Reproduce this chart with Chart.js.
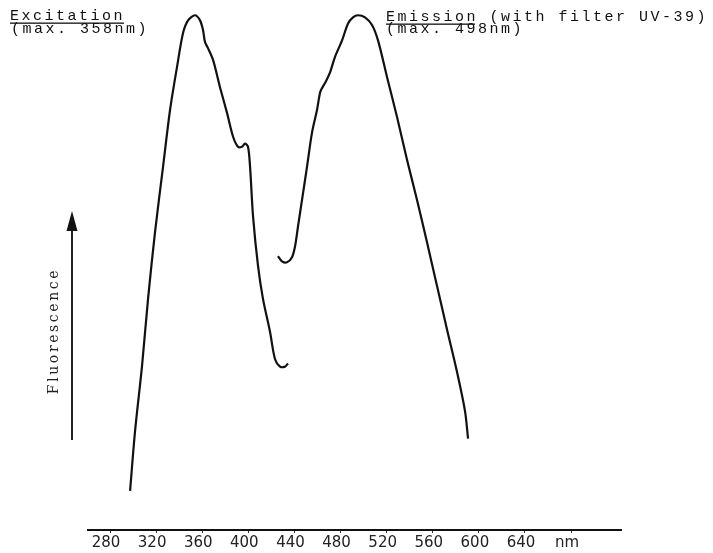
<!DOCTYPE html>
<html>
<head>
<meta charset="utf-8">
<script src="https://cdn.jsdelivr.net/npm/chart.js@4/dist/chart.umd.min.js"></script>
<style>
  html, body { margin: 0; padding: 0; background: #fff; }
  #box { width: 713px; height: 553px; }
</style>
</head>
<body>
<div id="box"><canvas id="spectrum"></canvas></div>
<script>
// wavelengths (nm) and relative fluorescence
const exWavelength = [297.4, 301.7, 307.8, 313.0, 319.0, 326.0, 332.1, 338.1, 343.3, 347.7, 353.7, 358.1, 360.7, 362.4, 365.0, 369.4, 375.4, 381.5, 386.7, 391.0, 394.5, 397.1, 399.7, 401.5, 404.1, 408.4, 412.7, 418.8, 423.1, 427.5, 431.8, 434.4];
const exIntensity  = [7.6, 19.2, 32.0, 45.0, 57.9, 70.7, 81.8, 90.1, 96.7, 99.2, 100.2, 99.2, 97.3, 95.0, 93.8, 91.5, 86.2, 81.2, 76.6, 74.6, 74.6, 75.2, 74.6, 70.7, 61.0, 51.4, 45.0, 38.6, 33.3, 31.8, 31.8, 32.4];

const emWavelength = [425.7, 429.2, 433.5, 437.9, 440.5, 443.1, 446.6, 450.9, 455.2, 459.6, 462.2, 463.9, 466.5, 470.9, 475.2, 481.3, 486.5, 490.8, 495.1, 501.2, 507.3, 512.5, 520.3, 529.0, 537.6, 546.3, 555.0, 563.7, 572.3, 581.0, 588.0, 590.6];
const emIntensity  = [53.3, 52.3, 52.1, 53.1, 55.2, 59.1, 64.3, 70.7, 77.3, 81.8, 85.1, 86.0, 87.0, 89.1, 92.1, 95.3, 98.6, 99.8, 100.2, 99.8, 98.3, 95.3, 88.2, 80.4, 72.1, 64.3, 56.0, 47.5, 39.1, 30.8, 23.1, 17.8];

const tickValues = [280, 320, 360, 400, 440, 480, 520, 560, 600, 640];
const unitTick = 680;
const unitLabel = 'nm';

function toPoints(xs, ys) {
  return xs.map((x, i) => ({ x: x, y: ys[i] }));
}

// typed captions, axis arrow and its label
const decorations = {
  id: 'decorations',
  afterDraw(chart) {
    const ctx = chart.ctx;
    ctx.save();
    ctx.fillStyle = '#111';
    ctx.font = '15px "Liberation Mono"';
    ctx.letterSpacing = '2.5px';
    ctx.textBaseline = 'alphabetic';
    ctx.fillText('Excitation', 10, 20);
    ctx.fillText('(max. 358nm)', 11, 33);
    ctx.fillText('Emission (with filter UV-39)', 386, 21);
    ctx.fillText('(max. 498nm)', 386, 33);
    ctx.fillRect(10, 22.5, 114, 1.3);
    ctx.fillRect(386, 23.5, 89, 1.3);

    ctx.strokeStyle = '#222';
    ctx.lineWidth = 2;
    ctx.beginPath();
    ctx.moveTo(72, 440);
    ctx.lineTo(72, 224);
    ctx.stroke();
    ctx.beginPath();
    ctx.moveTo(72, 211);
    ctx.lineTo(66.5, 231);
    ctx.lineTo(77.5, 231);
    ctx.closePath();
    ctx.fill();

    ctx.translate(54, 331);
    ctx.rotate(-Math.PI / 2);
    ctx.fillStyle = '#222';
    ctx.font = '14px "DejaVu Serif"';
    ctx.letterSpacing = '2.6px';
    ctx.textAlign = 'center';
    ctx.textBaseline = 'middle';
    ctx.fillText('Fluorescence', 0, 0);
    ctx.restore();
  }
};

const config = {
  type: 'line',
  data: {
    datasets: [
      {
        label: 'Excitation',
        data: toPoints(exWavelength, exIntensity),
        borderColor: '#111',
        borderWidth: 2.2,
        pointRadius: 0,
        tension: 0.3,
        fill: false
      },
      {
        label: 'Emission',
        data: toPoints(emWavelength, emIntensity),
        borderColor: '#111',
        borderWidth: 2.2,
        pointRadius: 0,
        tension: 0.3,
        fill: false
      }
    ]
  },
  options: {
    responsive: true,
    maintainAspectRatio: false,
    animation: false,
    layout: { padding: { left: 88, right: 92, top: 6, bottom: 0 } },
    plugins: {
      legend: { display: false },
      tooltip: { enabled: false }
    },
    scales: {
      x: {
        type: 'linear',
        min: 260.9,
        max: 723.3,
        afterBuildTicks(axis) {
          axis.ticks = tickValues.concat([unitTick]).map(v => ({ value: v }));
        },
        ticks: {
          color: '#222',
          font: { family: 'DejaVu Sans', size: 15 },
          padding: 1,
          labelOffset: -4,
          maxRotation: 0,
          autoSkip: false,
          callback: v => (v === unitTick ? unitLabel : String(v))
        },
        grid: { display: true, drawOnChartArea: false, drawTicks: true, tickLength: 3, color: '#333', lineWidth: 1 },
        border: { display: true, color: '#111', width: 2 }
      },
      y: {
        display: false,
        min: 0,
        max: 102
      }
    }
  },
  plugins: [decorations]
};

new Chart(document.getElementById('spectrum'), config);
</script>
</body>
</html>
